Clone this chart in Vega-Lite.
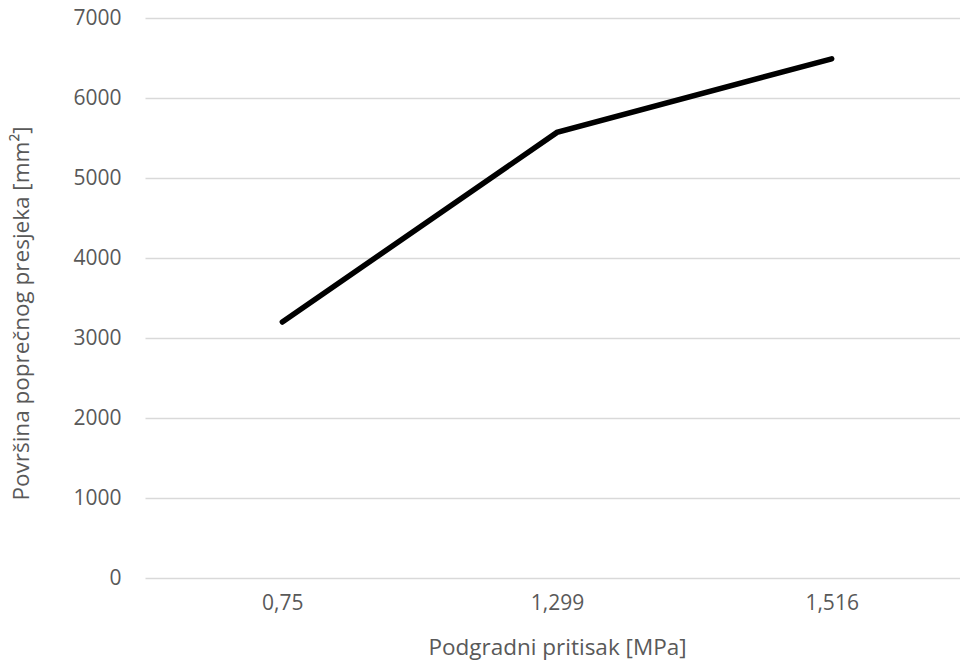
{
  "$schema": "https://vega.github.io/schema/vega-lite/v6.json",
  "width": 824,
  "height": 560,
  "autosize": {"type": "none"},
  "padding": {"left": 145, "top": 18, "right": 0, "bottom": 88},
  "background": "white",
  "config": {
    "view": {"stroke": null},
    "font": "Open Sans"
  },
  "data": {
    "values": [
      {"pritisak": "0,75", "povrsina": 3200},
      {"pritisak": "1,299", "povrsina": 5570},
      {"pritisak": "1,516", "povrsina": 6490}
    ]
  },
  "mark": {"type": "line", "color": "black", "strokeWidth": 5.5, "strokeCap": "round", "strokeJoin": "miter"},
  "encoding": {
    "x": {
      "field": "pritisak",
      "type": "ordinal",
      "sort": null,
      "scale": {"type": "point", "padding": 0.5},
      "axis": {
        "title": "Podgradni pritisak [MPa]",
        "labelAngle": 0,
        "labelFont": "Open Sans",
        "labelFontSize": 21,
        "labelColor": "#595959",
        "labelPadding": 14,
        "titleFont": "Open Sans",
        "titleFontSize": 22.5,
        "titleFontWeight": "normal",
        "titleColor": "#595959",
        "titlePadding": 23,
        "domain": false,
        "ticks": false,
        "grid": false
      }
    },
    "y": {
      "field": "povrsina",
      "type": "quantitative",
      "scale": {"domain": [0, 7000], "nice": false},
      "axis": {
        "title": "Površina poprečnog presjeka [mm²]",
        "values": [0, 1000, 2000, 3000, 4000, 5000, 6000, 7000],
        "format": "d",
        "labelFont": "Open Sans",
        "labelFontSize": 21,
        "labelColor": "#595959",
        "labelPadding": 24,
        "titleFont": "Open Sans",
        "titleFontSize": 22.5,
        "titleFontWeight": "normal",
        "titleColor": "#595959",
        "titlePadding": 39,
        "titleY": 295,
        "domain": false,
        "ticks": false,
        "grid": true,
        "gridColor": "#d9d9d9",
        "gridWidth": 1.3
      }
    }
  }
}
